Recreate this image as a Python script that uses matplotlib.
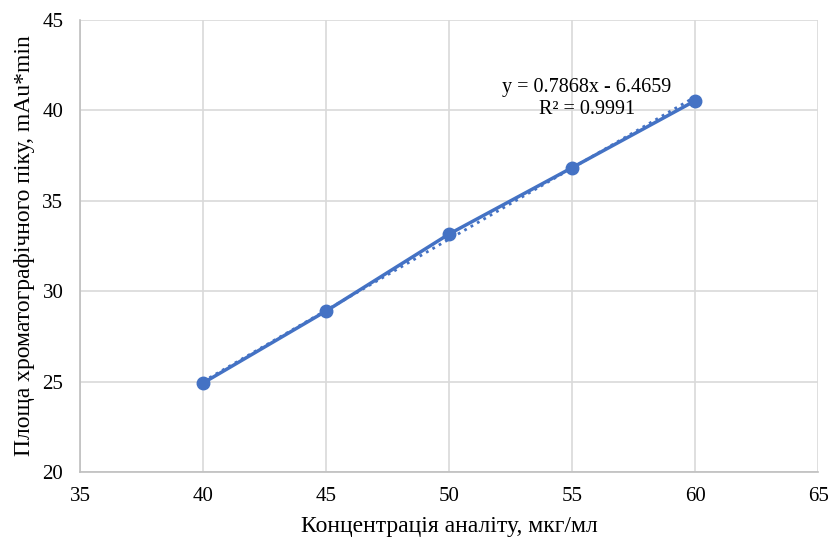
import numpy as np
import matplotlib
matplotlib.use("Agg")
import matplotlib.pyplot as plt

plt.rcParams['font.family'] = ['Liberation Serif', 'DejaVu Serif']

# concentration vs peak area
conc = [40, 45, 50, 55, 60]
area = [24.92, 28.90, 33.16, 36.83, 40.53]
slope = 0.7868
intercept = -6.4659
r2 = 0.9991

blue = '#4472C4'
grid_col = '#D9D9D9'

fig = plt.figure(figsize=(8.29, 5.37), dpi=100)
ax = fig.add_axes([0.0965, 0.121, 0.8905, 0.842])

ax.plot(conc, area, color=blue, lw=2.5, marker='o', ms=9, zorder=3)

# linear trendline
xt = np.array([conc[0], conc[-1]])
ax.plot(xt, slope * xt + intercept, color=blue, lw=2, ls=':', zorder=2)

ax.text(55.6, 41.24, 'y = %.4fx - %.4f' % (slope, -intercept), ha='center', va='center', fontsize=14.5)
ax.text(55.6, 40.05, 'R² = %.4f' % r2, ha='center', va='center', fontsize=14.5)

ax.set_xlim(35, 65)
ax.set_ylim(20, 45)
ax.set_xticks(range(35, 66, 5))
ax.set_yticks(range(20, 46, 5))
ax.grid(True, color=grid_col, lw=1.2)
ax.set_axisbelow(True)
for s in ['top', 'right']:
    ax.spines[s].set_visible(False)
for s in ['left', 'bottom']:
    ax.spines[s].set_color('#BFBFBF')
    ax.spines[s].set_linewidth(1.2)
ax.tick_params(length=0, labelsize=15, pad=11)
ax.tick_params(axis='y', pad=12)

ax.set_xlabel('Концентрація аналіту, мкг/мл', fontsize=17, labelpad=7)
ax.set_ylabel('Площа хроматографічного піку, mAu*min', fontsize=17, labelpad=5)

fig.savefig('out.png', dpi=100)
